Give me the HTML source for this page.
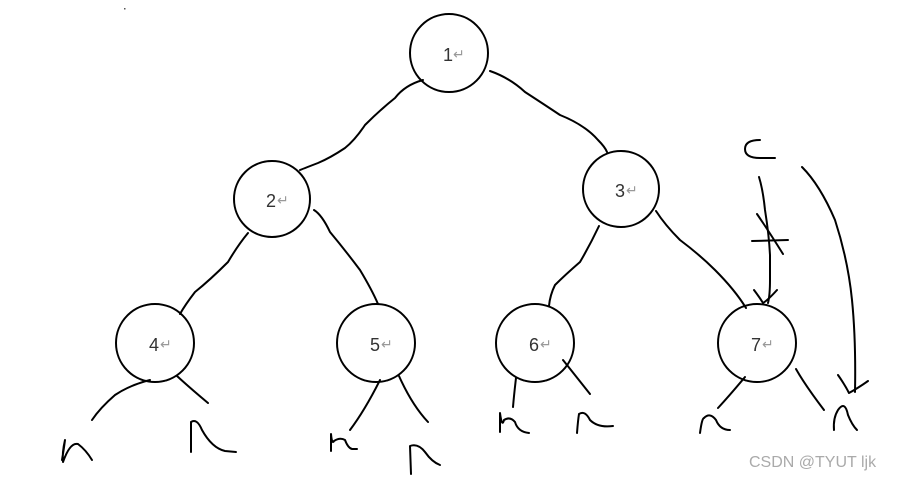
<!DOCTYPE html>
<html><head><meta charset="utf-8"><style>
html,body{margin:0;padding:0;background:#fff;width:905px;height:480px;overflow:hidden}
svg{display:block}
text{font-family:"Liberation Sans",sans-serif}
</style></head><body>
<svg width="905" height="480" viewBox="0 0 905 480" xmlns="http://www.w3.org/2000/svg">
<g fill="none" stroke="#000" stroke-width="2" stroke-linecap="round" stroke-linejoin="round">
<circle cx="449" cy="53" r="39"/>
<circle cx="272" cy="199" r="38"/>
<circle cx="621" cy="189" r="38"/>
<circle cx="155" cy="343" r="39"/>
<circle cx="376" cy="343" r="39"/>
<circle cx="535" cy="343" r="39"/>
<circle cx="757" cy="343" r="39"/>
<path d="M423 80 Q405 85 395 98 Q380 110 365 125 Q355 140 345 148 Q330 158 318 163 Q305 168 300 170"/>
<path d="M490 71 Q510 78 525 92 Q545 105 560 115 Q585 125 598 140 Q605 147 607 152"/>
<path d="M248 233 Q238 245 228 262 Q210 280 195 292 Q185 305 180 314"/>
<path d="M314 210 Q322 215 330 232 Q345 250 360 270 Q372 290 378 304"/>
<path d="M599 226 Q590 245 580 262 Q565 275 555 285 Q550 295 549 306"/>
<path d="M656 211 Q665 225 680 240 Q700 255 715 270 Q735 290 746 308"/>
<path d="M150 380 Q130 385 115 395 Q100 408 92 420"/>
<path d="M177 376 Q190 388 208 403"/>
<path d="M380 380 Q365 410 350 430"/>
<path d="M399 376 Q412 405 428 422"/>
<path d="M516 378 Q514 395 513 407"/>
<path d="M563 360 Q575 375 590 394"/>
<path d="M745 377 Q730 395 718 408"/>
<path d="M796 369 Q805 385 824 410"/>
<path d="M62 460 Q64 448 65 440 Q62 453 63 462 Q70 442 78 444 Q86 450 92 460"/>
<path d="M191 452 L191 422 Q197 418 202 430 Q212 448 225 451 L236 452"/>
<path d="M331 451 L331 434 Q332 445 334 441 Q340 437 345 440 Q348 448 352 449 L357 449"/>
<path d="M411 474 L410 446 Q418 443 425 452 Q432 462 440 465"/>
<path d="M500 432 L500 413 Q502 428 504 420 Q510 416 515 422 Q518 432 529 433"/>
<path d="M577 433 Q578 420 579 414 Q585 410 590 420 Q598 428 613 426"/>
<path d="M700 433 Q702 418 704 418 Q710 412 716 420 Q720 430 730 430"/>
<path d="M760 140 Q745 140 745 149 Q745 158 760 158 L775 158"/>
<path d="M759 177 Q763 190 765 210 Q769 235 770 255 L770 280 Q770 295 768 303"/>
<path d="M754 290 Q760 298 763 303 Q768 300 777 290"/>
<path d="M757 214 Q768 230 783 254"/>
<path d="M752 241 L788 240"/>
<path d="M802 167 Q820 185 835 220 Q848 260 852 300 Q856 340 855 392"/>
<path d="M838 375 Q845 385 849 393 Q858 388 868 381"/>
<path d="M834 430 Q833 418 838 410 Q845 400 848 415 Q852 425 857 430"/>
</g>
<g font-size="18" fill="#333">
<text x="443" y="61">1</text><text x="266" y="207">2</text><text x="615" y="197">3</text>
<text x="149" y="351">4</text><text x="370" y="351">5</text><text x="529" y="351">6</text><text x="751" y="351">7</text>
</g>
<g font-size="14" fill="#999">
<text x="453" y="59">↵</text><text x="277" y="205">↵</text><text x="626" y="195">↵</text>
<text x="160" y="349">↵</text><text x="381" y="349">↵</text><text x="540" y="349">↵</text><text x="762" y="349">↵</text>
</g>
<rect x="124" y="8" width="1.5" height="1.5" fill="#555"/>
<text x="749" y="467" font-size="16" fill="#aaa">CSDN @TYUT ljk</text>
</svg>
</body></html>
